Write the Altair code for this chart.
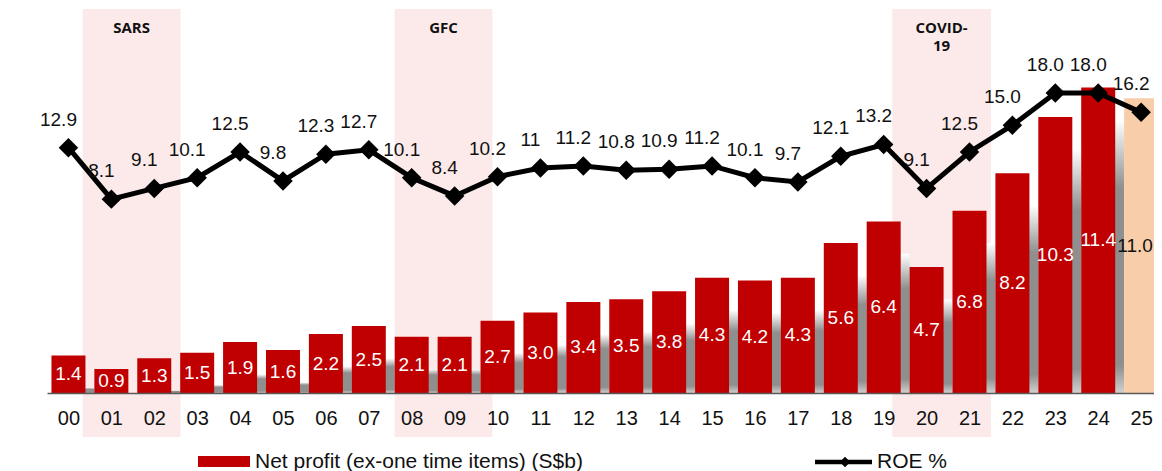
import altair as alt
import pandas as pd

# ---- data ----
years = ["00", "01", "02", "03", "04", "05", "06", "07", "08", "09", "10", "11", "12",
         "13", "14", "15", "16", "17", "18", "19", "20", "21", "22", "23", "24", "25"]
net_profit = [1.4, 0.9, 1.3, 1.5, 1.9, 1.6, 2.2, 2.5, 2.1, 2.1, 2.7, 3.0, 3.4,
              3.5, 3.8, 4.3, 4.2, 4.3, 5.6, 6.4, 4.7, 6.8, 8.2, 10.3, 11.4, 11.0]
roe = [12.9, 8.1, 9.1, 10.1, 12.5, 9.8, 12.3, 12.7, 10.1, 8.4, 10.2, 11, 11.2,
       10.8, 10.9, 11.2, 10.1, 9.7, 12.1, 13.2, 9.1, 12.5, 15.0, 18.0, 18.0, 16.2]
roe_text = ["12.9", "8.1", "9.1", "10.1", "12.5", "9.8", "12.3", "12.7", "10.1", "8.4",
            "10.2", "11", "11.2", "10.8", "10.9", "11.2", "10.1", "9.7", "12.1", "13.2",
            "9.1", "12.5", "15.0", "18.0", "18.0", "16.2"]
latest_year = "25"

event_names = ["SARS", "GFC", "COVID-\n19"]
event_start = [0.33, 7.6, 19.2]
event_end = [2.61, 9.88, 21.5]

legend_bar = "Net profit (ex-one time items) (S$b)"
legend_line = "ROE %"

# ---- tables ----
df = pd.DataFrame({
    "idx": list(range(len(years))),
    "year": years,
    "profit": net_profit,
    "roe": roe,
    "roe_label": roe_text,
})
df["kind"] = ["latest" if y == latest_year else "actual" for y in years]

events = pd.DataFrame({"name": event_names, "start": event_start, "end": event_end})

RED = "#C00000"
PEACH = "#F8CEAA"
PINK = "#FCEAEA"
FONT = "Liberation Sans"

x_scale = alt.Scale(domain=[-0.5, 25.3], nice=False, zero=False, padding=0)
x_axis = alt.Axis(
    values=list(range(len(years))),
    labelExpr="datum.value < 10 ? '0' + datum.value : '' + datum.value",
    title=None, grid=False, ticks=False,
    domainColor="#595959", domainWidth=1.5,
    labelFont=FONT, labelFontSize=20, labelColor="#111111",
    labelPadding=15, zindex=1,
)


def X(field):
    return alt.X(field, scale=x_scale, axis=x_axis, title=None)


bar_y = alt.Scale(domain=[0, 14.33], nice=False, zero=True, padding=0)
roe_y = alt.Scale(domain=[-10, 25.85], nice=False, zero=False, padding=0)

base = alt.Chart(df)

# shaded crisis periods
shade = alt.Chart(events).mark_rect(color=PINK).encode(
    x=X("start:Q"),
    x2="end:Q",
    y=alt.value(0),
    y2=alt.value(428),
)

event_text = alt.Chart(events).transform_calculate(
    mid="(datum.start + datum.end) / 2"
).mark_text(
    font="Open Sans", fontWeight="bold", fontSize=15, baseline="top",
    lineBreak="\n", lineHeight=18, color="#111111",
).encode(
    x=X("mid:Q"),
    y=alt.value(12),
    text="name:N",
)

shadow_fill = alt.LinearGradient(
    gradient="linear", x1=0, x2=0, y1=0, y2=1,
    stops=[
        alt.GradientStop(color="#ffffff", offset=0),
        alt.GradientStop(color="#8F8F8F", offset=0.25),
        alt.GradientStop(color="#8F8F8F", offset=0.9),
        alt.GradientStop(color="#d0d0d0", offset=1),
    ],
)

shadow = base.transform_calculate(
    shadow="max(datum.profit - 1.2, 0)"
).mark_bar(width=34, xOffset=9, color=shadow_fill).encode(
    x=X("idx:Q"),
    y=alt.Y("shadow:Q", scale=bar_y, axis=None),
)

bars = base.mark_bar(width=34).encode(
    x=X("idx:Q"),
    y=alt.Y("profit:Q", scale=bar_y, axis=None),
    color=alt.Color("kind:N", scale=alt.Scale(domain=["actual", "latest"], range=[RED, PEACH]),
                    legend=None),
)

bar_labels = base.transform_filter(
    "datum.kind == 'actual'"
).transform_calculate(
    mid="datum.profit / 2"
).mark_text(font=FONT, fontSize=19, baseline="middle", color="#ffffff").encode(
    x=X("idx:Q"),
    y=alt.Y("mid:Q", scale=bar_y, axis=None),
    text=alt.Text("profit:Q", format=".1f"),
)

latest_label = base.transform_filter(
    "datum.kind == 'latest'"
).transform_calculate(
    mid="datum.profit / 2"
).mark_text(font=FONT, fontSize=19, baseline="middle", color="#111111", dx=-6).encode(
    x=X("idx:Q"),
    y=alt.Y("mid:Q", scale=bar_y, axis=None),
    text=alt.Text("profit:Q", format=".1f"),
)

roe_line = base.mark_line(color="black", strokeWidth=5).encode(
    x=X("idx:Q"),
    y=alt.Y("roe:Q", scale=roe_y, axis=None),
)

roe_points = base.mark_point(shape="diamond", filled=True, size=380, color="black", opacity=1).encode(
    x=X("idx:Q"),
    y=alt.Y("roe:Q", scale=roe_y, axis=None),
)

roe_labels = base.mark_text(font=FONT, fontSize=19, dx=-10, dy=-28, color="#111111").encode(
    x=X("idx:Q"),
    y=alt.Y("roe:Q", scale=roe_y, axis=None),
    text="roe_label:N",
)

# custom legend
leg = alt.Chart(pd.DataFrame({"label": [legend_bar]}))
leg_swatch = leg.mark_rect(color=RED).encode(
    x=alt.value(151), x2=alt.value(203), y=alt.value(447), y2=alt.value(458)
)
leg_bar_text = leg.mark_text(font=FONT, fontSize=21, align="left", baseline="middle", color="#111111").encode(
    x=alt.value(208), y=alt.value(453), text="label:N"
)
leg2 = alt.Chart(pd.DataFrame({"label": [legend_line]}))
leg_line = leg2.mark_rule(color="black", strokeWidth=4.5).encode(
    x=alt.value(768), x2=alt.value(825), y=alt.value(453)
)
leg_diamond = leg2.mark_point(shape="diamond", filled=True, size=110, color="black", opacity=1).encode(
    x=alt.value(798), y=alt.value(453)
)
leg_line_text = leg2.mark_text(font=FONT, fontSize=21, align="left", baseline="middle", color="#111111").encode(
    x=alt.value(830), y=alt.value(453), text="label:N"
)

chart = alt.layer(
    shade, event_text, shadow, bars, bar_labels, latest_label, roe_line, roe_points, roe_labels,
    leg_swatch, leg_bar_text, leg_line, leg_diamond, leg_line_text,
).resolve_scale(
    y="independent", color="independent"
).properties(
    width=1107, height=384,
    autosize=alt.AutoSizeParams(type="none"),
    padding={"left": 39, "top": 1, "right": 0, "bottom": 78},
).configure_view(stroke=None)

chart.save("out.html", embed_options={"renderer": "svg", "actions": False})
